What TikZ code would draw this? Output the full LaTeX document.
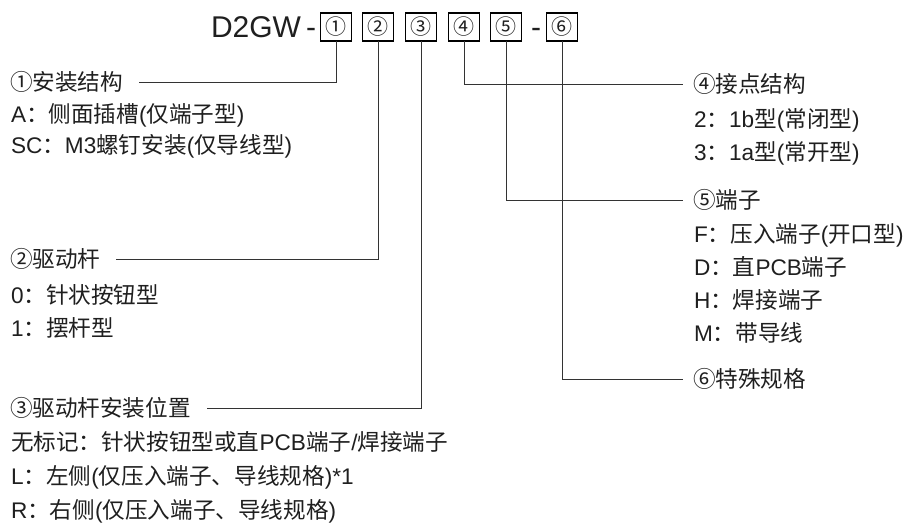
\documentclass[tikz,border=0pt]{standalone}
\usepackage{fontspec}
\setmainfont{Liberation Sans}
\newfontfamily\cjk{Noto Sans CJK SC}
\begin{document}
\begin{tikzpicture}[x=1pt,y=-1pt,
  every node/.style={inner sep=0pt,outer sep=0pt,text=black!88},
  title/.style={font=\fontsize{30}{32}\selectfont,anchor=base west},
  codebox/.style={draw=black,line width=1.7pt,minimum width=31pt,minimum height=28pt,font=\cjk\fontsize{21}{24}\selectfont},
  lbl/.style={anchor=west,font=\fontsize{22.6}{26}\selectfont},
  conn/.style={draw=black!80,line width=0.9pt}]
\useasboundingbox (0,0) rectangle (906,525);
\fill[white] (0,0) rectangle (906,525);
% title
\node[title] (ttl) at (211,37) {D2GW};
\node[title] (d1) at (306,37) {-};
\node[codebox] (b1) at (336,27) {①};
\node[codebox] (b2) at (378,27) {②};
\node[codebox] (b3) at (421,27) {③};
\node[codebox] (b4) at (464,27) {④};
\node[codebox] (b5) at (506,27) {⑤};
\node[title] (d2) at (531,37) {-};
\node[codebox] (b6) at (562,27) {⑥};
% left labels
\node[lbl] (t1) at (10,82) {{\cjk ①安装结构}};
\node[lbl] (t1a) at (11,115) {A{\cjk ：侧面插槽}({\cjk 仅端子型})};
\node[lbl] (t1b) at (11,146) {SC{\cjk ：}M3{\cjk 螺钉安装}({\cjk 仅导线型})};
\node[lbl] (t2) at (10,259) {{\cjk ②驱动杆}};
\node[lbl] (t2a) at (11,295) {0{\cjk ：针状按钮型}};
\node[lbl] (t2b) at (11,328) {1{\cjk ：摆杆型}};
\node[lbl] (t3) at (10,408) {{\cjk ③驱动杆安装位置}};
\node[lbl] (t3a) at (11,442) {{\cjk 无标记：针状按钮型或直}PCB{\cjk 端子}/{\cjk 焊接端子}};
\node[lbl] (t3b) at (11,477) {L{\cjk ：左侧}({\cjk 仅压入端子、导线规格})*1};
\node[lbl] (t3c) at (11,511) {R{\cjk ：右侧}({\cjk 仅压入端子、导线规格})};
% right labels
\node[lbl] (t4) at (693,84) {{\cjk ④接点结构}};
\node[lbl] (t4a) at (694,120) {2{\cjk ：}1b{\cjk 型}({\cjk 常闭型})};
\node[lbl] (t4b) at (694,153) {3{\cjk ：}1a{\cjk 型}({\cjk 常开型})};
\node[lbl] (t5) at (693,200) {{\cjk ⑤端子}};
\node[lbl] (t5a) at (694,235) {F{\cjk ：压入端子}({\cjk 开口型})};
\node[lbl] (t5b) at (694,267) {D{\cjk ：直}PCB{\cjk 端子}};
\node[lbl] (t5c) at (694,300) {H{\cjk ：焊接端子}};
\node[lbl] (t5d) at (694,333) {M{\cjk ：带导线}};
\node[lbl] (t6) at (693,379) {{\cjk ⑥特殊规格}};
% connectors
\draw[conn] (b1.south) |- ([xshift=16pt]t1.east);
\draw[conn] (b2.south) |- ([xshift=16pt]t2.east);
\draw[conn] (b3.south) |- ([xshift=16pt]t3.east);
\draw[conn] (b4.south) |- ([xshift=-10pt]t4.west);
\draw[conn] (b5.south) |- ([xshift=-10pt]t5.west);
\draw[conn] (b6.south) |- ([xshift=-10pt]t6.west);
\end{tikzpicture}
\end{document}
